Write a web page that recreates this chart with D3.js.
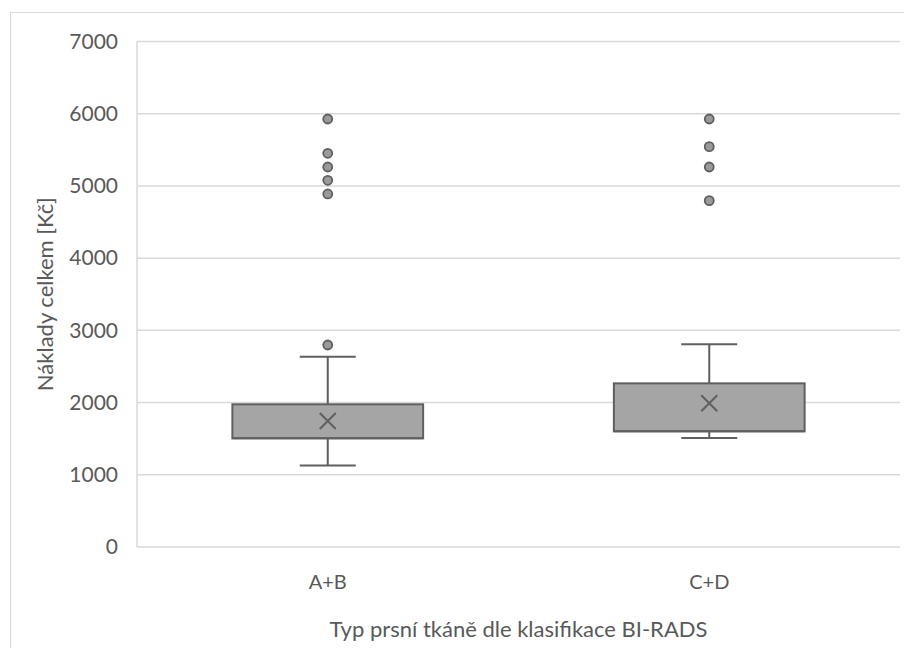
<!DOCTYPE html>
<html>
<head>
<meta charset="utf-8">
<script src="https://cdn.jsdelivr.net/npm/d3@7"></script>
<style>
  html, body { margin: 0; padding: 0; background: #fff; }
  svg { display: block; }
  text { font-family: Lato, "Open Sans", sans-serif; fill: #595959; }
</style>
</head>
<body>
<svg id="chart" width="904" height="648"></svg>
<script>
// Box-plot statistics per BI-RADS breast tissue group (costs in Kč)
const categories = ["A+B", "C+D"];
const whiskerLow  = [1130, 1510];
const q1          = [1505, 1602];
const median      = [1505, 1602];
const q3          = [1976, 2266];
const whiskerHigh = [2635, 2807];
const means       = [1745, 1990];
const outliers    = [
  [2797, 4889, 5078, 5262, 5452, 5927],
  [4796, 5262, 5544, 5927]
];
const yTicks = [0, 1000, 2000, 3000, 4000, 5000, 6000, 7000];

const boxes = categories.map((c, i) => ({
  cat: c, lo: whiskerLow[i], q1: q1[i], med: median[i], q3: q3[i],
  hi: whiskerHigh[i], mean: means[i], out: outliers[i]
}));

const svg = d3.select("#chart");
const margin = { left: 137, right: 4, top: 41.5, bottom: 101 };
const W = 904, H = 648;

// outer chart frame
svg.append("rect")
  .attr("x", 10.5).attr("y", 12.5).attr("width", 900).attr("height", 700)
  .attr("fill", "none").attr("stroke", "#d9d9d9").attr("stroke-width", 1);

const x = d3.scaleBand().domain(categories)
  .range([margin.left, W - margin.right]).paddingInner(0).paddingOuter(0);
const y = d3.scaleLinear().domain([0, 7000]).range([H - margin.bottom, margin.top]);

// horizontal gridlines
svg.append("g").selectAll("line").data(yTicks).join("line")
  .attr("x1", margin.left).attr("x2", W - margin.right)
  .attr("y1", d => y(d)).attr("y2", d => y(d))
  .attr("stroke", "#d9d9d9").attr("stroke-width", 1.5);

// left axis line
svg.append("line")
  .attr("x1", margin.left).attr("x2", margin.left)
  .attr("y1", y(7000)).attr("y2", y(0))
  .attr("stroke", "#d9d9d9").attr("stroke-width", 1.5);

// y tick labels
const yAxis = d3.axisLeft(y).tickValues(yTicks).tickFormat(d3.format("d"))
  .tickSize(0).tickPadding(19);
const gy = svg.append("g").attr("transform", `translate(${margin.left},0)`).call(yAxis);
gy.select(".domain").remove();
gy.selectAll("text").style("font-size", "21px").attr("fill", "#595959")
  .style("font-family", "Lato, 'Open Sans', sans-serif");

// x category labels
const xAxis = d3.axisBottom(x).tickSize(0).tickPadding(28);
const gx = svg.append("g").attr("transform", `translate(0,${y(0)})`).call(xAxis);
gx.select(".domain").remove();
gx.selectAll("text").style("font-size", "20px").attr("fill", "#595959")
  .style("font-family", "Lato, 'Open Sans', sans-serif");

// axis titles
svg.append("text")
  .attr("transform", `translate(44,${(y(0) + y(7000)) / 2}) rotate(-90)`)
  .attr("text-anchor", "middle").attr("dominant-baseline", "central")
  .style("font-size", "22px").text("Náklady celkem [Kč]");
svg.append("text")
  .attr("x", (x.range()[0] + x.range()[1]) / 2).attr("y", 637)
  .attr("text-anchor", "middle")
  .style("font-size", "22px").text("Typ prsní tkáně dle klasifikace BI-RADS");

const dark = "#5f5f5f";
const fill = "#a5a5a5";
const boxW = x.bandwidth() * 0.5;
const capW = 56;

const g = svg.append("g").selectAll("g").data(boxes).join("g")
  .attr("transform", d => `translate(${x(d.cat) + x.bandwidth() / 2},0)`);

// whiskers
g.append("line").attr("x1", 0).attr("x2", 0)
  .attr("y1", d => y(d.hi)).attr("y2", d => y(d.q3))
  .attr("stroke", dark).attr("stroke-width", 2);
g.append("line").attr("x1", 0).attr("x2", 0)
  .attr("y1", d => y(d.q1)).attr("y2", d => y(d.lo))
  .attr("stroke", dark).attr("stroke-width", 2);
g.append("line").attr("x1", -capW / 2).attr("x2", capW / 2)
  .attr("y1", d => y(d.hi)).attr("y2", d => y(d.hi))
  .attr("stroke", dark).attr("stroke-width", 2);
g.append("line").attr("x1", -capW / 2).attr("x2", capW / 2)
  .attr("y1", d => y(d.lo)).attr("y2", d => y(d.lo))
  .attr("stroke", dark).attr("stroke-width", 2);

// box
g.append("rect")
  .attr("x", -boxW / 2).attr("width", boxW)
  .attr("y", d => y(d.q3)).attr("height", d => y(d.q1) - y(d.q3))
  .attr("fill", fill).attr("stroke", dark).attr("stroke-width", 2);

// median
g.append("line").attr("x1", -boxW / 2).attr("x2", boxW / 2)
  .attr("y1", d => y(d.med)).attr("y2", d => y(d.med))
  .attr("stroke", dark).attr("stroke-width", 2);

// mean marker (×)
const m = 8;
g.append("path")
  .attr("d", d => `M${-m},${y(d.mean) - m}L${m},${y(d.mean) + m}M${m},${y(d.mean) - m}L${-m},${y(d.mean) + m}`)
  .attr("stroke", dark).attr("stroke-width", 2).attr("fill", "none");

// outliers
g.selectAll("circle").data(d => d.out).join("circle")
  .attr("cx", 0).attr("cy", v => y(v)).attr("r", 4.5)
  .attr("fill", "#9a9a9a").attr("stroke", dark).attr("stroke-width", 1.8);
</script>
</body>
</html>
